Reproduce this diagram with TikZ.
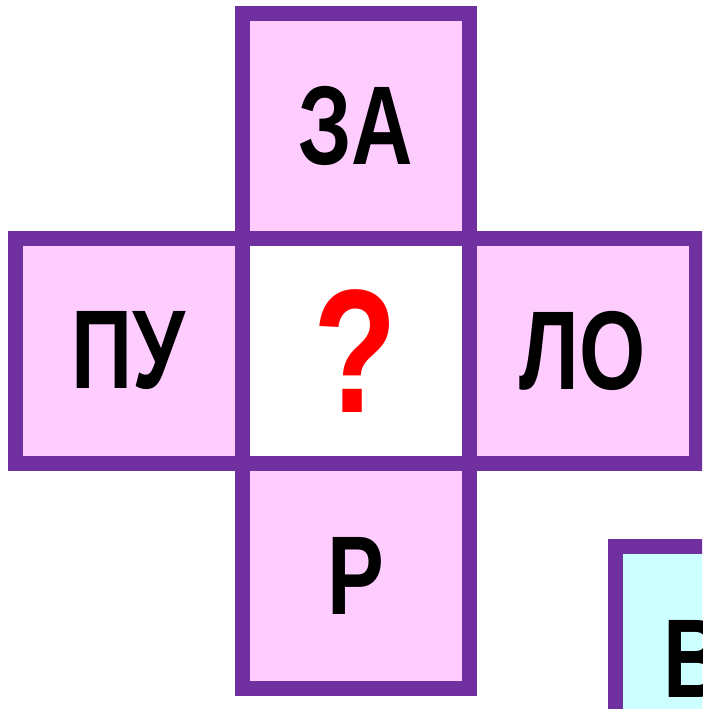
\documentclass[tikz,border=0pt]{standalone}
\usepackage{fontspec}
\newfontfamily\syllfont[FakeStretch=0.76]{Liberation Sans}
\newfontfamily\questfont[FakeStretch=0.78]{Liberation Sans}
\usetikzlibrary{calc,positioning}
\definecolor{cellborder}{HTML}{7030A0}
\definecolor{cellpink}{HTML}{FFCCFF}
\definecolor{cellcyan}{HTML}{CCFFFF}
\tikzset{
  cell/.style = {
    draw=cellborder,
    line width=15pt,
    fill=cellpink,
    minimum width=227pt,
    minimum height=225pt,
    inner sep=0pt
  },
  syll/.style = {
    inner sep=0pt,
    font=\syllfont\bfseries\fontsize{112}{112}\selectfont
  },
  quest/.style = {
    inner sep=0pt,
    text=red,
    font=\questfont\bfseries\fontsize{176}{176}\selectfont
  }
}

\begin{document}
\begin{tikzpicture}[x=1pt,y=-1pt]
		\useasboundingbox (0,0) rectangle (702,709);
		\clip (0,0) rectangle (702,709);
		\node[cell] (top) at (355.5,126) {};
		\node[cell] (left) at (128.5,351) {};
		\node[cell] (right) at (582.5,351) {};
		\node[cell] (bottom) at (355.5,576) {};
		\node[cell, fill=white] (mid) at (355.5,351) {};
		\node[cell, fill=cellcyan] (next) at (728.5,658.5) {};
%
		\node[syll] (za) at (top) {ЗА};
		\node[syll] (pu) at (left) {ПУ};
		\node[syll] (lo) at (right) {ЛО};
		\node[syll] (r) at (bottom) {Р};
		\node[quest] (q) at (mid) {?};
		\node[syll, anchor=west] (v) at ($(next.west)+(56,0)$) {В};
	\end{tikzpicture}
\end{document}
